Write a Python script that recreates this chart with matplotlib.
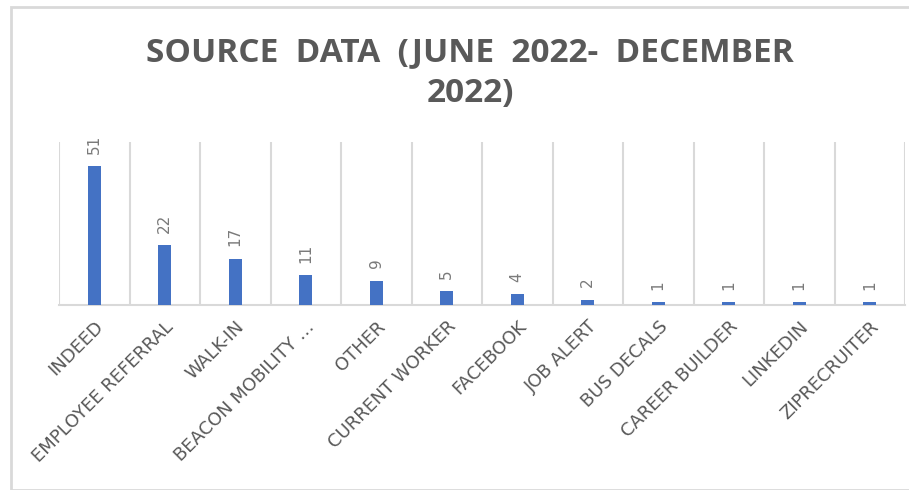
import matplotlib
matplotlib.use("Agg")
import matplotlib.pyplot as plt
from matplotlib.patches import Rectangle

categories = ["INDEED", "EMPLOYEE REFERRAL", "WALK-IN", "BEACON MOBILITY \u2026", "OTHER",
              "CURRENT WORKER", "FACEBOOK", "JOB ALERT", "BUS DECALS", "CAREER BUILDER",
              "LINKEDIN", "ZIPRECRUITER"]
values = [51, 22, 17, 11, 9, 5, 4, 2, 1, 1, 1, 1]
title = "SOURCE  DATA  (JUNE  2022-  DECEMBER\n2022)"

W, H = 909, 490
fig = plt.figure(figsize=(W / 100, H / 100), dpi=100)
fig.patch.set_facecolor("white")

# chart border
fig.patches.append(Rectangle((11 / W, 0), 1, 1 - 7.5 / H, transform=fig.transFigure,
                             fill=False, edgecolor="#d9d9d9", linewidth=2, zorder=0))

ax = fig.add_axes([59 / W, 1 - 305 / H, (905 - 59) / W, (305 - 142) / H])
x = list(range(len(categories)))
ax.bar(x, values, width=0.185, color="#4472C4", zorder=3)

ax.set_xlim(-0.5, len(categories) - 0.5)
ax.set_ylim(0, 60)
ax.set_yticks([])

# vertical gridlines at category boundaries
ax.set_xticks([i - 0.5 for i in range(len(categories) + 1)], minor=True)
ax.grid(True, which="minor", axis="x", color="#d9d9d9", linewidth=1.5, zorder=0)
ax.tick_params(axis="x", which="minor", length=0)

ax.set_xticks(x)
ax.set_xticklabels(categories, rotation=45, ha="right", rotation_mode="anchor",
                   fontsize=13, color="#595959", family="DejaVu Sans")
ax.tick_params(axis="x", which="major", length=0, pad=9)

for s in ["top", "left", "right"]:
    ax.spines[s].set_visible(False)
ax.spines["bottom"].set_color("#d9d9d9")
ax.spines["bottom"].set_linewidth(1.5)

for xi, v in zip(x, values):
    ax.annotate(str(v), (xi, v), xytext=(0, 9), textcoords="offset points",
                rotation=90, ha="center", va="bottom", fontsize=11, color="#7a7a7a")

fig.text(470 / W, 1 - 73 / H, title, ha="center", va="center", fontsize=24,
         fontweight="bold", color="#595959", family="Open Sans", linespacing=1.3)

fig.savefig("out.png", dpi=100)
